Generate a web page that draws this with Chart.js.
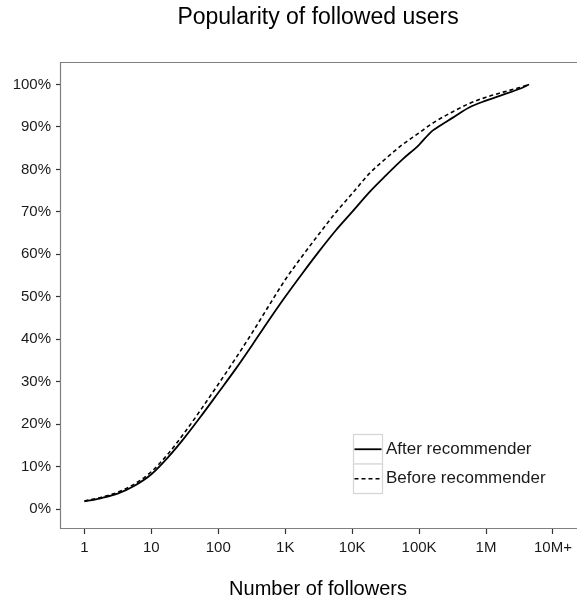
<!DOCTYPE html>
<html>
<head>
<meta charset="utf-8">
<script src="https://cdn.jsdelivr.net/npm/chart.js@4"></script>
<style>
  html, body { margin: 0; padding: 0; background: #fff; }
  #wrap { width: 577px; height: 599px; }
</style>
</head>
<body>
<div id="wrap"><canvas id="c" width="577" height="599"></canvas></div>
<script>
const followers = [1, 1.8, 3.2, 5.6, 10, 18, 32, 56, 100, 180, 320, 560, 1000, 1800, 3200, 5600,
  10000, 18000, 32000, 56000, 100000, 150000, 180000, 320000, 560000, 1000000, 1800000, 3200000, 4400000];
const afterPct = [1.8, 2.6, 3.7, 5.5, 8.2, 12.3, 17.0, 22.0, 27.4, 32.9, 38.6, 44.3, 50.0, 55.5, 60.7, 65.5,
  70.0, 74.6, 78.6, 82.3, 85.8, 88.8, 89.7, 92.2, 94.6, 96.2, 97.6, 99.0, 100];
const beforePct = [1.9, 2.8, 4.0, 5.9, 8.8, 13.1, 18.2, 23.6, 29.4, 35.4, 41.5, 47.7, 54.0, 59.6, 64.8, 69.7,
  74.3, 79.0, 82.6, 85.8, 88.6, 90.6, 91.4, 93.6, 95.5, 97.0, 98.2, 99.3, 100];
const xTickValues = [1, 10, 100, 1000, 10000, 100000, 1000000, 10000000];
const xTickLabels = ['1', '10', '100', '1K', '10K', '100K', '1M', '10M+'];
const yTickValues = [0, 10, 20, 30, 40, 50, 60, 70, 80, 90, 100];
const seriesNames = ['After recommender', 'Before recommender'];

const FONT = "'Liberation Sans', Arial, Helvetica, sans-serif";
const TEXT = '#1a1a1a';

const toPoints = (ys) => followers.map((f, i) => ({ x: f, y: ys[i] }));

const panelBorder = {
  id: 'panelBorder',
  afterDraw(chart) {
    const { ctx, chartArea: a } = chart;
    ctx.save();
    ctx.strokeStyle = '#7f7f7f';
    ctx.lineWidth = 1.2;
    ctx.beginPath();
    ctx.rect(Math.round(a.left) - 0.5, Math.round(a.top) + 0.5, a.right - a.left + 6, Math.round(a.bottom - a.top) - 1);
    ctx.stroke();
    ctx.restore();
  }
};

const boxLegend = {
  id: 'boxLegend',
  afterDraw(chart) {
    const { ctx } = chart;
    const keyX = 353, keyW = 29, rowH = 29.5, top = 434;
    ctx.save();
    chart.data.datasets.forEach((ds, i) => {
      const y0 = top + i * rowH;
      ctx.fillStyle = '#fff';
      ctx.fillRect(keyX, y0, keyW, rowH);
      ctx.strokeStyle = '#d4d4d4';
      ctx.lineWidth = 1.2;
      ctx.setLineDash([]);
      ctx.strokeRect(keyX + 0.5, y0 + 0.5, keyW, rowH);
      ctx.strokeStyle = ds.borderColor;
      ctx.lineWidth = ds.borderWidth;
      ctx.setLineDash(ds.borderDash || []);
      ctx.beginPath();
      const cy = y0 + rowH / 2 + 0.5;
      ctx.moveTo(keyX + 1.5, cy);
      ctx.lineTo(keyX + keyW - 0.5, cy);
      ctx.stroke();
      ctx.setLineDash([]);
      ctx.fillStyle = TEXT;
      ctx.font = '17px ' + FONT;
      ctx.textBaseline = 'middle';
      ctx.textAlign = 'left';
      ctx.fillText(ds.label, keyX + keyW + 4, cy);
    });
    ctx.restore();
  }
};

new Chart(document.getElementById('c'), {
  type: 'scatter',
  data: {
    datasets: [
      {
        label: seriesNames[0],
        data: toPoints(afterPct),
        showLine: true,
        borderColor: '#000',
        borderWidth: 1.8,
        pointRadius: 0,
        fill: false,
        cubicInterpolationMode: 'monotone'
      },
      {
        label: seriesNames[1],
        data: toPoints(beforePct),
        showLine: true,
        borderColor: '#000',
        borderWidth: 1.6,
        borderDash: [4, 3],
        pointRadius: 0,
        fill: false,
        cubicInterpolationMode: 'monotone'
      }
    ]
  },
  options: {
    responsive: false,
    animation: false,
    devicePixelRatio: 1,
    layout: { padding: 0 },
    plugins: {
      legend: { display: false },
      tooltip: { enabled: false },
      title: {
        display: true,
        text: 'Popularity of followed users',
        fullSize: false,
        color: '#000',
        font: { family: FONT, size: 23, weight: 'normal', lineHeight: 1 },
        padding: { top: 6, bottom: 33 }
      }
    },
    scales: {
      x: {
        type: 'logarithmic',
        min: Math.pow(10, -0.35),
        max: Math.pow(10, 7.33),
        afterBuildTicks(scale) { scale.ticks = xTickValues.map(v => ({ value: v })); },
        afterFit(scale) { scale.height = 70; },
        ticks: {
          autoSkip: false,
          maxRotation: 0,
          padding: 5,
          color: TEXT,
          font: { family: FONT, size: 15, lineHeight: 1.2 },
          callback(value) {
            const i = xTickValues.indexOf(value);
            return i >= 0 ? xTickLabels[i] : '';
          }
        },
        grid: { display: true, drawOnChartArea: false, drawTicks: true, tickLength: 5, tickColor: '#333', tickWidth: 1.2 },
        border: { display: false },
        title: {
          display: true,
          text: 'Number of followers',
          color: '#000',
          font: { family: FONT, size: 20, lineHeight: 1 },
          padding: { top: 0, bottom: 0 }
        }
      },
      y: {
        type: 'linear',
        min: -4.7,
        max: 105.3,
        afterBuildTicks(scale) { scale.ticks = yTickValues.map(v => ({ value: v })); },
        afterFit(scale) { scale.width = 61; },
        ticks: {
          padding: 5,
          color: TEXT,
          font: { family: FONT, size: 15, lineHeight: 1.2 },
          callback(value) { return value + '%'; }
        },
        grid: { display: true, drawOnChartArea: false, drawTicks: true, tickLength: 5, tickColor: '#333', tickWidth: 1.2 },
        border: { display: false }
      }
    }
  },
  plugins: [panelBorder, boxLegend]
});
</script>
</body>
</html>
